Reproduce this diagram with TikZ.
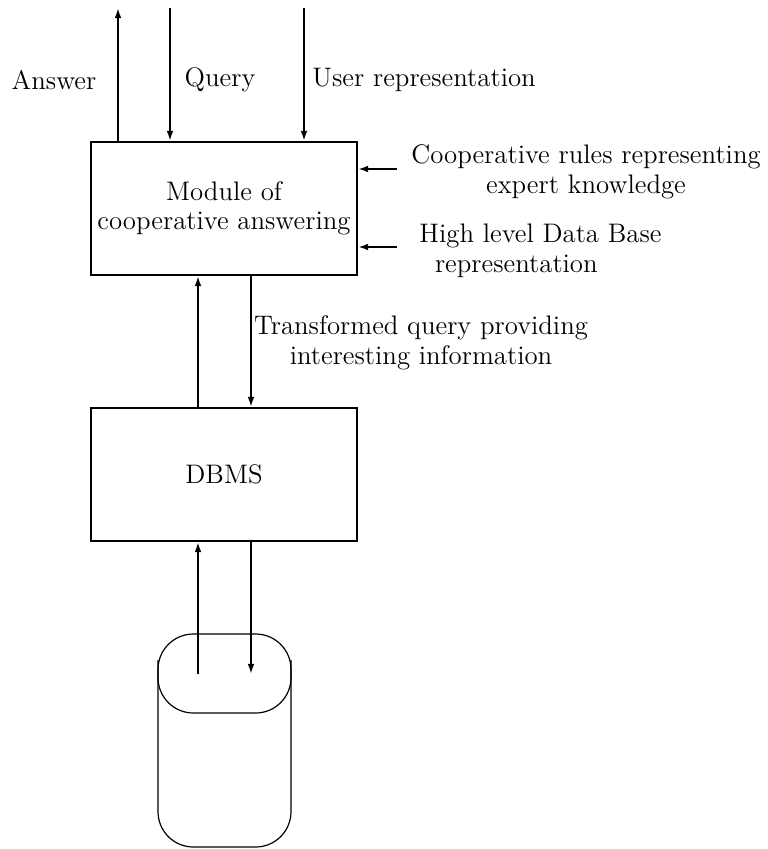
\documentclass[tikz,border=0pt]{standalone}
\usetikzlibrary{arrows.meta}
\begin{document}
\begin{tikzpicture}[x=0.0147cm,y=-0.0147cm,font=\fontsize{11.2}{12.3}\selectfont]
\tikzset{kasten/.style={draw,line width=0.8pt,minimum width=3.91cm,minimum height=1.955cm,inner sep=0pt},
  beschr/.style={inner sep=0pt,align=center},
  pfeil/.style={line width=0.8pt,-{Latex[length=4.2pt,width=2.8pt]}}}
\useasboundingbox (0,0) rectangle (768,849);
\node [kasten,align=center] (modul) at (224,208.5) {Module of\\cooperative answering};
\node [kasten] (dbms) at (224,474.5) {DBMS};
\node [beschr] (answer) at (54,80) {Answer};
\node [beschr] (query) at (220,80) {Query};
\node [beschr,anchor=west] (user) at (312,80) {User representation};
\node [beschr] (rules) at (586,172) {Cooperative rules representing\\expert knowledge};
\node [beschr,anchor=west,align=left] (hilev) at (419,251) {High level Data Base\\\hspace*{6.5pt}representation};
\node [beschr] (transf) at (421,343) {Transformed query providing\\interesting information};
\coordinate (a) at (118,8);
\coordinate (q) at (170,8);
\coordinate (u) at (304,8);
\coordinate (r) at (397,169);
\coordinate (h) at (397,247);
\coordinate (c1) at (198,674);
\coordinate (c2) at (251,674);
\draw[pfeil] (a |- modul.north) to (a);
\draw[pfeil] (q) to (q |- modul.north);
\draw[pfeil,line width=1.2pt] (u) to (u |- modul.north);
\draw[pfeil] (r) to (r -| modul.east);
\draw[pfeil,line width=1.2pt] (h) to (h -| modul.east);
\draw[pfeil] (c1 |- dbms.north) to (c1 |- modul.south);
\draw[pfeil] (c2 |- modul.south) to (c2 |- dbms.north);
\draw[pfeil] (c1) to (c1 |- dbms.south);
\draw[pfeil] (c2 |- dbms.south) to (c2);
% Datenbank
\draw[line width=0.5pt,rounded corners=0.52cm] (158,634) rectangle (291,847);
\draw[line width=0.5pt,rounded corners=0.52cm] (158,660) -- (158,713) -- (291,713) -- (291,660);
\end{tikzpicture}
\end{document}
